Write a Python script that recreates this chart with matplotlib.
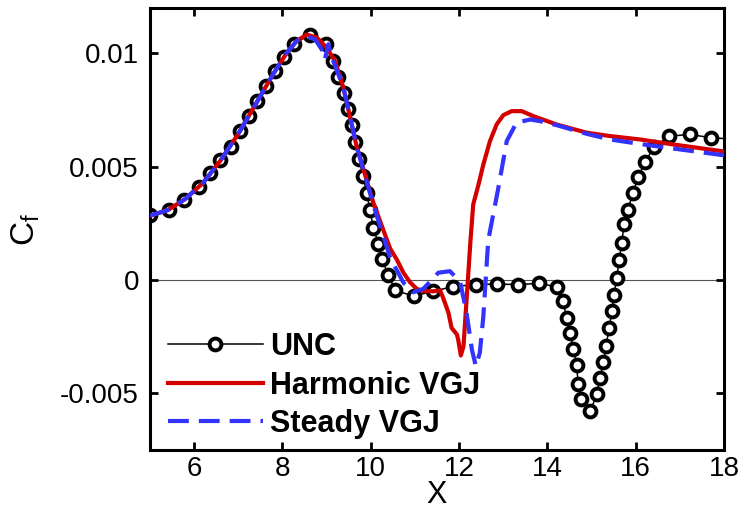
import numpy as np
import matplotlib
matplotlib.use('Agg')
import matplotlib.pyplot as plt

# UNC (marker points)
unc_x = [5.0, 5.43, 5.77, 6.12, 6.37, 6.59, 6.83, 7.04, 7.25, 7.43, 7.63, 7.82, 8.04, 8.25,
         8.62, 8.99, 9.15, 9.26, 9.39, 9.49, 9.57, 9.64, 9.73, 9.82, 9.91, 9.98, 10.06,
         10.17, 10.25, 10.4, 10.56, 10.97, 11.42, 11.87, 12.38, 12.85, 13.34, 13.81,
         14.21, 14.35, 14.44, 14.51, 14.59, 14.66, 14.7, 14.76, 14.97, 15.12, 15.19,
         15.27, 15.33, 15.4, 15.46, 15.51, 15.57, 15.63, 15.68, 15.74, 15.83, 15.93,
         16.06, 16.21, 16.42, 16.76, 17.23, 17.7, 18.0]
unc_y = [0.00287, 0.00311, 0.00355, 0.0041, 0.0047, 0.00529, 0.00588, 0.00657, 0.00723,
         0.00789, 0.00855, 0.00921, 0.00985, 0.01039, 0.01083, 0.01039, 0.00966, 0.00897,
         0.00826, 0.00756, 0.00682, 0.00608, 0.00535, 0.00461, 0.00385, 0.00308, 0.0023,
         0.00161, 0.00094, 0.0002, -0.00046, -0.00071, -0.00049, -0.00029, -0.0002,
         -0.00018, -0.0002, -0.00015, -0.0003, -0.00094, -0.00167, -0.00236, -0.00304,
         -0.00377, -0.00457, -0.00527, -0.00579, -0.00505, -0.00432, -0.00363, -0.00289,
         -0.00211, -0.00138, -0.00064, 0.0001, 0.0009, 0.00164, 0.00245, 0.00311, 0.00382,
         0.00454, 0.00522, 0.00586, 0.00635, 0.00642, 0.00628, 0.00624]

# Harmonic VGJ
harm_x = [5.0, 5.4, 5.8, 6.2, 6.6, 7.0, 7.4, 7.8, 8.1, 8.32, 8.55, 8.78, 9.0, 9.19, 9.38,
          9.68, 10.06, 10.44, 10.59, 10.74, 10.89, 11.04, 11.19, 11.4, 11.57, 11.64, 11.76,
          11.83, 11.95, 11.98, 12.04, 12.1, 12.16, 12.21, 12.26, 12.32, 12.44, 12.55, 12.7,
          12.85, 13.0, 13.19, 13.42, 13.68, 14.21, 14.89, 15.42, 16.1, 16.85, 18.0]
harm_y = [0.00284, 0.00308, 0.00358, 0.00428, 0.00528, 0.00645, 0.00778, 0.00912, 0.01003,
          0.01054, 0.01083, 0.01069, 0.01025, 0.00966, 0.00848, 0.0059, 0.0034, 0.00138,
          0.0009, 0.00032, -0.0001, -0.00039, -0.00049, -0.0005, -0.00046, -0.00079,
          -0.00145, -0.00211, -0.0024, -0.00263, -0.00333, -0.00292, -0.00116, 0.00032,
          0.00179, 0.00333, 0.00421, 0.0051, 0.00613, 0.00686, 0.00727, 0.00745, 0.00745,
          0.00723, 0.00686, 0.0065, 0.00635, 0.0062, 0.00598, 0.00567]

# Steady VGJ
steady_x = [5.0, 5.4, 5.8, 6.2, 6.6, 7.0, 7.4, 7.8, 8.1, 8.32, 8.55, 8.74, 8.89, 8.96, 9.04,
            9.15, 9.38, 9.68, 10.06, 10.44, 10.74, 10.96, 11.19, 11.53, 11.79, 12.02, 12.17,
            12.29, 12.38, 12.47, 12.55, 12.66, 12.89, 13.08, 13.3, 13.61, 13.83, 14.21,
            14.89, 15.42, 16.1, 16.85, 18.0]
steady_y = [0.00284, 0.00308, 0.00358, 0.00428, 0.00528, 0.00645, 0.00778, 0.00912, 0.01003,
            0.01054, 0.01076, 0.01061, 0.01017, 0.00973, 0.0104, 0.00966, 0.00849, 0.0059,
            0.0033, 0.00098, -0.00012, -0.00054, -0.00039, 0.00032, 0.00039, -0.00005,
            -0.00145, -0.00307, -0.0038, -0.00321, -0.0016, 0.00175, 0.00407, 0.00613,
            0.00694, 0.00708, 0.00701, 0.00683, 0.00645, 0.0062, 0.006, 0.0058, 0.0055]

x_ticks = [6, 8, 10, 12, 14, 16, 18]
y_ticks = [-0.005, 0, 0.005, 0.01]
y_ticklabels = ['-0.005', '0', '0.005', '0.01']


def setup_style():
    plt.rcParams.update({
        'font.family': ['Liberation Sans', 'DejaVu Sans'],
        'font.size': 20,
        'xtick.labelsize': 20, 'ytick.labelsize': 20,
        'axes.linewidth': 2.2,
        'xtick.direction': 'in', 'ytick.direction': 'in',
        'xtick.major.size': 6, 'ytick.major.size': 6,
        'xtick.major.width': 2, 'ytick.major.width': 2,
        'xtick.top': True, 'ytick.right': True,
    })


def main():
    setup_style()
    fig = plt.figure(figsize=(7.43, 5.18), dpi=100)
    ax = fig.add_axes([150 / 743, 1 - 450 / 518, 574 / 743, 442 / 518])

    ax.axhline(0, color='#555555', lw=0.8, zorder=1)
    ax.plot(unc_x, unc_y, color='black', lw=1.1, marker='o', markersize=8.5,
            markerfacecolor='white', markeredgecolor='black', markeredgewidth=2.8,
            markevery=slice(0, len(unc_x) - 1), label='UNC', zorder=2)
    ax.plot(harm_x, harm_y, color='#d40000', lw=3, label='Harmonic VGJ', zorder=3)
    ax.plot(steady_x, steady_y, color='#3333ff', lw=3, dashes=(5, 2.4),
            label='Steady VGJ', zorder=4)

    ax.set_xlim(5, 18)
    ax.set_ylim(-0.0075, 0.012)
    ax.set_xticks(x_ticks)
    ax.set_yticks(y_ticks)
    ax.set_yticklabels(y_ticklabels)
    ax.tick_params(axis='x', pad=4)
    ax.tick_params(axis='y', pad=8)
    ax.set_xlabel('X', fontsize=22, labelpad=-1)
    ax.set_ylabel(r'C$_\mathregular{f}$', fontsize=24, labelpad=13)

    ax.legend(loc='upper left', bbox_to_anchor=(168 / 743, 1 - 332 / 518),
              bbox_transform=fig.transFigure, frameon=False, numpoints=1,
              handlelength=3.1, handletextpad=0.25, labelspacing=0.28,
              borderpad=0, borderaxespad=0,
              prop={'weight': 'bold', 'size': 22})

    fig.savefig('out.png', dpi=100)


if __name__ == '__main__':
    main()
